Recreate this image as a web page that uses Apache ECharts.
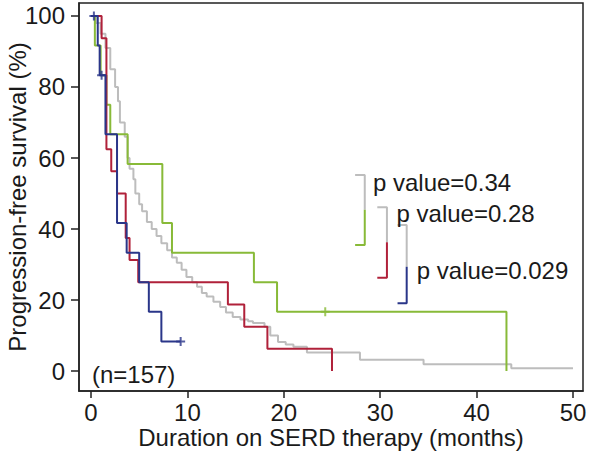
<!DOCTYPE html>
<html><head><meta charset="utf-8">
<script src="https://cdn.jsdelivr.net/npm/echarts@6/dist/echarts.min.js"></script>
<style>html,body{margin:0;padding:0;background:#fff}#c{width:590px;height:454px}</style>
</head><body><div id="c"></div>
<script>
// ---- data ----
const xTicks = [0, 10, 20, 30, 40, 50];
const yTicks = [0, 20, 40, 60, 80, 100];

// Overall cohort (n=157), gray
const grayTime = [0, 0.5, 1.0, 1.5, 2.0, 2.5, 2.8, 3.0, 3.5, 3.8, 4.0, 4.4, 4.6, 5.0, 5.3, 5.8, 6.3, 6.8, 7.3, 7.9, 8.4, 8.9, 9.4, 9.9, 10.5, 11.0, 11.5, 12.0, 12.7, 13.4, 14.0, 14.7, 15.5, 16.3, 16.8, 18.0, 18.6, 19.4, 20.2, 21.0, 22.4, 27.9, 34.5, 43.6, 50.0];
const graySurv = [100, 98, 95, 91, 85, 80, 76, 70, 66, 60, 57, 54, 50, 47, 45, 42, 40, 38, 36, 34, 32, 30.5, 28.5, 26.5, 25, 23.7, 22, 21, 19.5, 18, 16.5, 15.2, 14.5, 14, 13.5, 12.5, 10, 8.2, 7.5, 6.8, 5.2, 3.2, 1.9, 0.8, 0.8];

// Green group
const greenTime = [0, 0.4, 1.0, 1.6, 2.0, 3.8, 7.4, 8.4, 16.9, 19.3, 43.1];
const greenSurv = [100, 91.7, 83.3, 75, 66.7, 58.3, 41.7, 33.3, 25, 16.7, 0];
const greenCensorTime = [24.3];
const greenCensorSurv = [16.7];

// Red group
const redTime = [0, 1.1, 1.6, 2.1, 2.7, 3.6, 4.0, 4.9, 14.2, 15.9, 18.3, 25.0];
const redSurv = [100, 93.75, 62.5, 56.25, 50, 37.5, 31.25, 25, 18.75, 12.5, 6.25, 0];

// Blue group
const blueTime = [0, 0.7, 0.9, 1.5, 2.7, 3.7, 5.0, 6.0, 7.3, 9.3];
const blueSurv = [100, 91.7, 83.3, 66.7, 41.7, 33.3, 25, 16.7, 8.3, 8.3];
const blueCensorTime = [0.3, 1.1, 9.3];
const blueCensorSurv = [100, 83.3, 8.3];

// Annotation texts
const pLabels = ['p value=0.34', 'p value=0.28', 'p value=0.029'];
const nLabel = '(n=157)';

// ---- layout / style (not data) ----
const COL = { gray: '#BDBDBD', green: '#88BA38', red: '#B0213A', blue: '#2A3689', text: '#1a1a1a' };
const FONT = "'Liberation Sans', Arial, Helvetica, sans-serif";
const FS = 24;
// bracket geometry in data coordinates: [xLeft, xVert, yTop, yMid, yBottom]
const brackets = [
  { g: [27.4, 28.4, 55.2, 45.4, 35.5], top: COL.gray, bottom: COL.green },
  { g: [29.7, 30.7, 46.1, 36.3, 26.3], top: COL.gray, bottom: COL.red },
  { g: [31.8, 32.75, 41.1, 29.4, 19.1], top: COL.gray, bottom: COL.blue }
];
// text anchors (left edge, vertical middle) in data coordinates
const pLabelPos = [[29.25, 53.0], [31.7, 44.5], [33.8, 28.4]];
const nLabelPos = [0.1, -1.1];

const zip = (a, b) => a.map((v, i) => [v, b[i]]);
const plusPath = 'path://M5,0L5,10M0,5L10,5';

function kmSeries(name, t, s, color, z) {
  return { name, type: 'line', step: 'end', data: zip(t, s), showSymbol: false, symbol: 'none',
    lineStyle: { color, width: 2 }, z, animation: false, silent: true };
}
function censorSeries(t, s, color, z) {
  return { type: 'scatter', data: zip(t, s), symbol: plusPath, symbolSize: 9,
    itemStyle: { color: 'none', borderColor: color, borderWidth: 2 }, z, animation: false, silent: true };
}

const series = [
  kmSeries('overall', grayTime, graySurv, COL.gray, 2),
  kmSeries('green', greenTime, greenSurv, COL.green, 3),
  kmSeries('red', redTime, redSurv, COL.red, 4),
  kmSeries('blue', blueTime, blueSurv, COL.blue, 5),
  censorSeries(greenCensorTime, greenCensorSurv, COL.green, 6),
  censorSeries(blueCensorTime, blueCensorSurv, COL.blue, 6)
];
brackets.forEach((b) => {
  const [xl, xv, yt, ym, yb] = b.g;
  series.push({ type: 'line', data: [[xl, yt], [xv, yt], [xv, ym]], symbol: 'none',
    lineStyle: { color: b.top, width: 2 }, z: 7, animation: false, silent: true });
  series.push({ type: 'line', data: [[xv, ym], [xv, yb], [xl, yb]], symbol: 'none',
    lineStyle: { color: b.bottom, width: 2 }, z: 7, animation: false, silent: true });
});

const chart = echarts.init(document.getElementById('c'), null, { renderer: 'svg' });
chart.setOption({
  backgroundColor: '#fff',
  animation: false,
  grid: { left: 79, right: 7, top: 3, bottom: 63, show: true, borderColor: '#222', borderWidth: 1.5,
    containLabel: false, outerBoundsMode: 'none' },
  xAxis: {
    type: 'value', min: -1.245, max: 51.04,
    name: 'Duration on SERD therapy (months)', nameLocation: 'middle', nameGap: 34, nameMoveOverlap: false,
    nameTextStyle: { fontFamily: FONT, fontSize: FS, color: COL.text },
    axisLine: { show: true, onZero: false, lineStyle: { color: '#222', width: 1.5 } },
    axisTick: { show: true, inside: false, length: 7, customValues: xTicks, lineStyle: { color: '#222', width: 1.5 } },
    axisLabel: { customValues: xTicks, margin: 9, fontFamily: FONT, fontSize: FS, color: COL.text },
    splitLine: { show: false }
  },
  yAxis: {
    type: 'value', min: -5.63, max: 103.66,
    name: 'Progression-free survival (%)', nameLocation: 'middle', nameGap: 50, nameRotate: 90, nameMoveOverlap: false,
    nameTextStyle: { fontFamily: FONT, fontSize: FS, color: COL.text },
    axisLine: { show: true, onZero: false, lineStyle: { color: '#222', width: 1.5 } },
    axisTick: { show: true, inside: false, length: 8, customValues: yTicks, lineStyle: { color: '#222', width: 1.5 } },
    axisLabel: { customValues: yTicks, margin: 14, fontFamily: FONT, fontSize: FS, color: COL.text },
    splitLine: { show: false }
  },
  series
});

// annotation texts placed through the chart's own coordinate conversion
const texts = pLabels.map((t, i) => ({ text: t, pos: pLabelPos[i] })).concat([{ text: nLabel, pos: nLabelPos }]);
chart.setOption({
  graphic: texts.map((d) => {
    const p = chart.convertToPixel({ gridIndex: 0 }, d.pos);
    return { type: 'text', x: p[0], y: p[1], z: 100, silent: true,
      style: { text: d.text, fill: COL.text, font: FS + 'px ' + FONT, align: 'left', verticalAlign: 'middle',
        textAlign: 'left', textVerticalAlign: 'middle' } };
  })
});
</script>
</body></html>
